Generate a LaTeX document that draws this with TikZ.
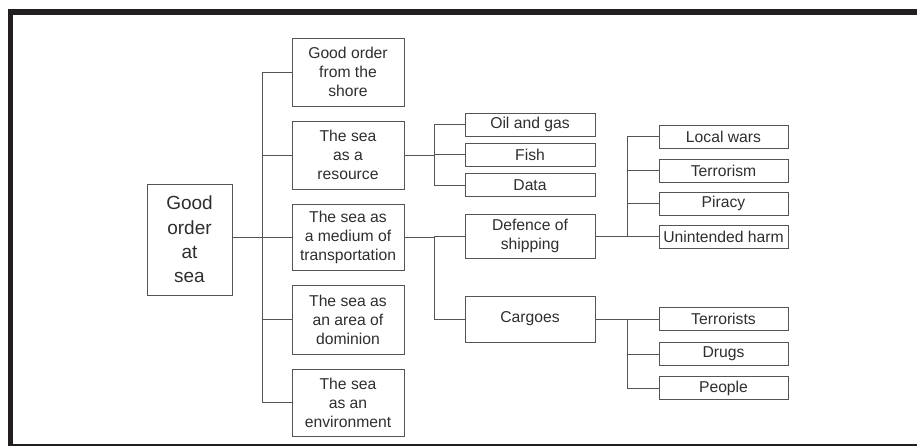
\documentclass[tikz,border=0pt]{standalone}
\usepackage{fontspec}
\setmainfont{Liberation Sans}
\definecolor{framec}{HTML}{231F20}
\definecolor{linec}{HTML}{555555}
\definecolor{textc}{HTML}{2E2E2E}
\tikzset{
  box/.style={draw=linec, line width=0.9pt, text=textc, align=center, inner sep=0pt, font=\fontsize{15.7}{19}\selectfont},
  rootbox/.style={box, minimum width=85pt, minimum height=111pt, font=\fontsize{19}{24.4}\selectfont},
  lvtwo/.style={box, minimum width=112pt, minimum height=68pt},
  lvthree/.style={box, minimum width=130pt, minimum height=23pt},
  lvfour/.style={box, minimum width=129pt, minimum height=23pt},
  conn/.style={draw=linec, line width=0.9pt}
}
\begin{document}
\begin{tikzpicture}[x=1pt,y=-1pt]
\useasboundingbox (0,0) rectangle (917,446);
\clip (0,0) rectangle (917,446);
% frame
\fill[framec] (8,9.5) rectangle (917,15);
\fill[framec] (8,9.5) rectangle (13,446);
\fill[framec] (8,444) rectangle (917,448);

\node[rootbox] (root) at (189.5,239.5) {Good\\order\\at\\sea};

\node[lvtwo] (shore) at (348,72) {Good order\\from the\\shore};
\node[lvtwo] (resource) at (348,155) {The sea\\as a\\resource};
\node[lvtwo, minimum height=66pt] (medium) at (348,237) {The sea as\\a medium of\\transportation};
\node[lvtwo, minimum height=69pt] (dominion) at (348,319.5) {The sea as\\an area of\\dominion};
\node[lvtwo, minimum height=67pt] (environ) at (348,402.5) {The sea\\as an\\environment};

\node[lvthree] (oil) at (530,124.5) {Oil and gas};
\node[lvthree] (fish) at (530,154.5) {Fish};
\node[lvthree] (data) at (530,185) {Data};
\node[lvthree, minimum height=44pt] (defence) at (530,236) {Defence of\\shipping};
\node[lvthree, minimum height=46pt] (cargoes) at (530,319) {Cargoes};

\node[lvfour] (local) at (723.5,136.5) {Local wars};
\node[lvfour] (terrorism) at (723.5,170.5) {Terrorism};
\node[lvfour] (piracy) at (723.5,203.5) {Piracy};
\node[lvfour] (harm) at (723.5,236.5) {Unintended harm};
\node[lvfour] (terrorists) at (723.5,319) {Terrorists};
\node[lvfour] (drugs) at (723.5,354) {Drugs};
\node[lvfour] (people) at (723.5,388) {People};

\coordinate (t2) at (262,0);
\coordinate (t3) at (434,0);
\coordinate (t4) at (627,0);

% level 1 -> 2
\draw[conn] (root.east |- medium) -- (medium.west);
\draw[conn] (t2 |- shore) -- (t2 |- environ);
\foreach \n in {shore,resource,medium,dominion,environ}
  \draw[conn] (t2 |- \n) -- (\n.west);

% resource -> 3
\draw[conn] (resource.east) -- (resource.east -| t3);
\draw[conn] (t3 |- oil) -- (t3 |- data);
\foreach \n in {oil,fish,data}
  \draw[conn] (t3 |- \n) -- (\n.west);

% medium -> 3
\draw[conn] (medium.east) -- (medium.east -| t3);
\draw[conn] (t3 |- medium) -- (t3 |- cargoes);
\draw[conn] (t3 |- defence) -- (defence.west);
\draw[conn] (t3 |- cargoes) -- (cargoes.west);

% defence -> 4
\draw[conn] (defence.east |- harm) -- (t4 |- harm);
\draw[conn] (t4 |- local) -- (t4 |- harm);
\foreach \n in {local,terrorism,piracy,harm}
  \draw[conn] (t4 |- \n) -- (\n.west);

% cargoes -> 4
\draw[conn] (cargoes.east) -- (cargoes.east -| t4);
\draw[conn] (t4 |- terrorists) -- (t4 |- people);
\foreach \n in {terrorists,drugs,people}
  \draw[conn] (t4 |- \n) -- (\n.west);
\end{tikzpicture}
\end{document}
